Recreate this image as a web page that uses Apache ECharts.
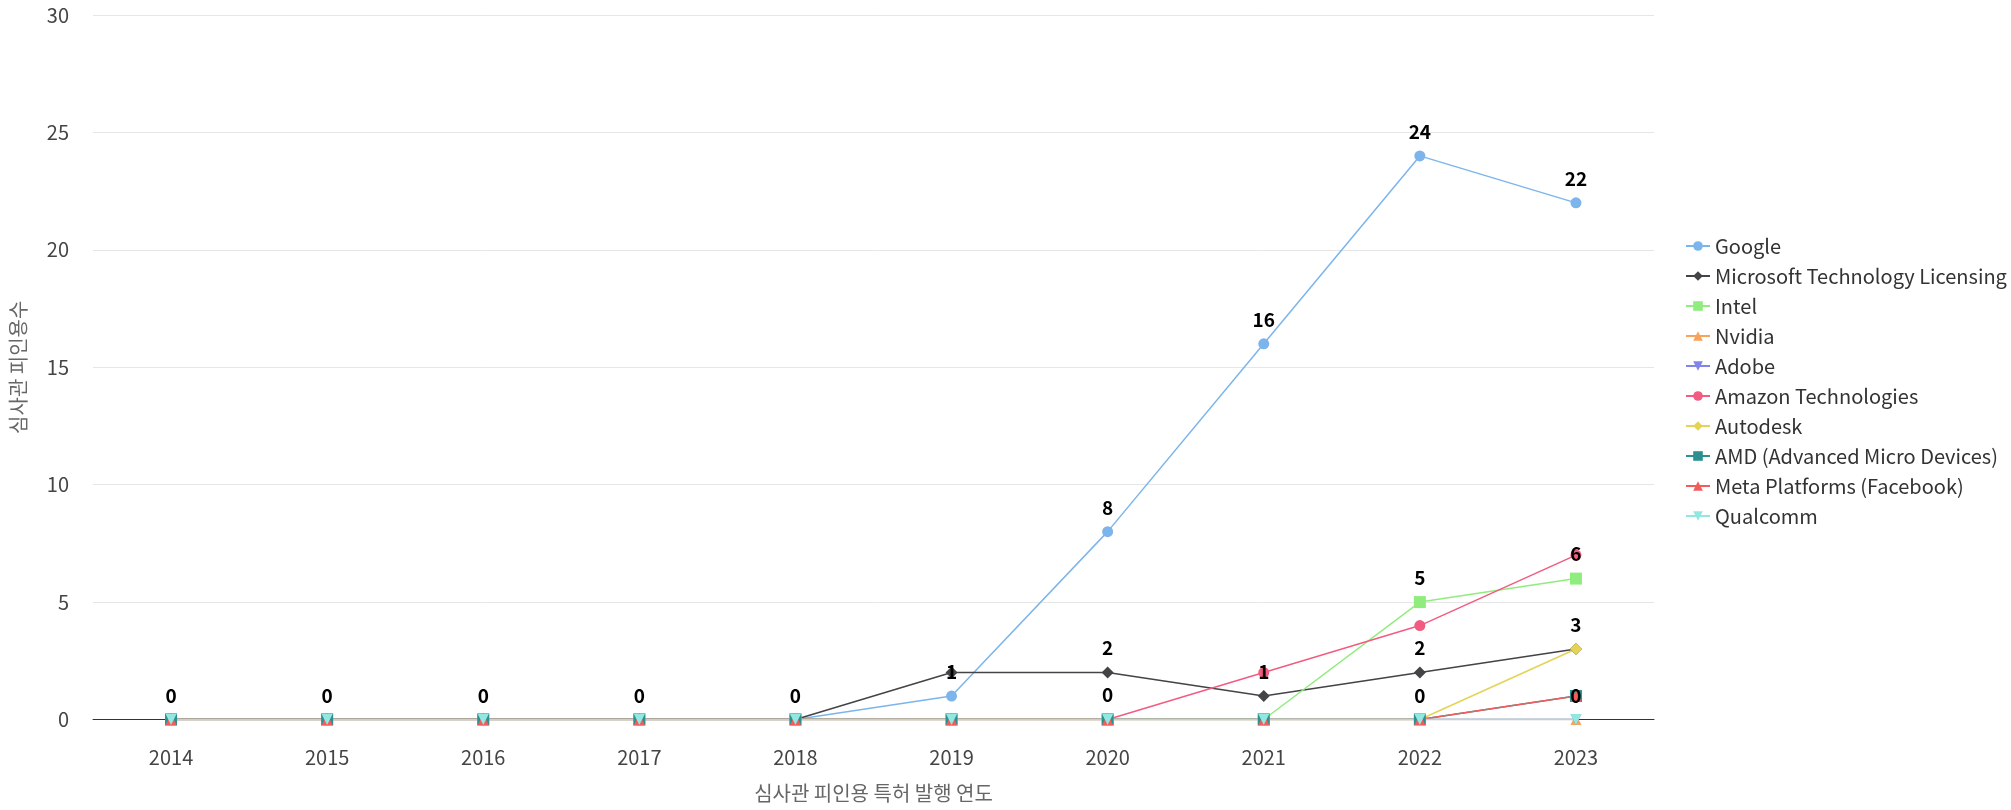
<!DOCTYPE html>
<html><head><meta charset="utf-8">
<script src="https://cdn.jsdelivr.net/npm/echarts@6/dist/echarts.min.js"></script>
<style>html,body{margin:0;padding:0;background:#fff}#c{width:2011px;height:810px}</style>
</head><body><div id="c"></div>
<script>
const years = ['2014','2015','2016','2017','2018','2019','2020','2021','2022','2023'];
const seriesNames = ['Google','Microsoft Technology Licensing','Intel','Nvidia','Adobe','Amazon Technologies','Autodesk','AMD (Advanced Micro Devices)','Meta Platforms (Facebook)','Qualcomm'];
const google    = [0,0,0,0,0,1,8,16,24,22];
const microsoft = [0,0,0,0,0,2,2,1,2,3];
const intel     = [0,0,0,0,0,0,0,0,5,6];
const nvidia    = [0,0,0,0,0,0,0,0,0,0];
const adobe     = [0,0,0,0,0,0,0,0,0,0];
const amazon    = [0,0,0,0,0,0,0,2,4,7];
const autodesk  = [0,0,0,0,0,0,0,0,0,3];
const amd       = [0,0,0,0,0,0,0,0,0,1];
const meta      = [0,0,0,0,0,0,0,0,0,1];
const qualcomm  = [0,0,0,0,0,0,0,0,0,0];
const yTicks = [0,5,10,15,20,25,30];

const values = [google,microsoft,intel,nvidia,adobe,amazon,autodesk,amd,meta,qualcomm];
const colors = ['#7cb5ec','#434348','#90ed7d','#f7a35c','#8085e9','#f15c80','#e4d354','#2b908f','#f45b5b','#91e8e1'];
const symbols = ['circle','diamond','rect','triangle','path://M0,0 L10,0 L5,10 Z','circle','diamond','rect','triangle','path://M0,0 L10,0 L5,10 Z'];
const FONT = "'Noto Sans CJK KR','Noto Sans',sans-serif";

// Hide overlapping data labels: earlier series win (greedy per category)
const showLabel = values.map(v => v.map(() => false));
years.forEach((y, j) => {
  const shown = [];
  values.forEach((v, i) => {
    if (shown.every(s => Math.abs(s - v[j]) >= 1.5)) { shown.push(v[j]); showLabel[i][j] = true; }
  });
});

const chart = echarts.init(document.getElementById('c'), null, {renderer:'canvas'});
chart.setOption({
  animation:false,
  color: colors,
  grid:{left:91, right:357, top:15, bottom:90.5, containLabel:false},
  legend:{
    orient:'vertical', left:1680, top:231,
    itemGap:10, itemWidth:24, itemHeight:12,
    textStyle:{fontSize:20, color:'#333', fontFamily:FONT},
    data: seriesNames
  },
  xAxis:{
    type:'category', data:years, boundaryGap:true,
    name:'심사관 피인용 특허 발행 연도', nameLocation:'middle', nameGap:64,
    nameTextStyle:{fontSize:20, color:'#666', fontFamily:FONT},
    axisLine:{lineStyle:{color:'#333', width:1}},
    axisTick:{show:false},
    axisLabel:{fontSize:20, color:'#444', margin:28, fontFamily:FONT}
  },
  yAxis:{
    type:'value', min:yTicks[0], max:yTicks[yTicks.length-1], interval:5,
    name:'심사관 피인용수', nameLocation:'middle', nameGap:65, nameRotate:90,
    nameTextStyle:{fontSize:20, color:'#666', fontFamily:FONT},
    axisLine:{show:false}, axisTick:{show:false},
    axisLabel:{fontSize:20, color:'#444', margin:24, fontFamily:FONT},
    splitLine:{lineStyle:{color:'#e6e6e6'}}
  },
  series: seriesNames.map((n,i)=>({
    name:n, type:'line',
    data: values[i].map((v,j)=>({value:v, label:{show:showLabel[i][j]}})),
    symbol:symbols[i], symbolSize: (symbols[i]==='rect'||symbols[i]==='diamond')?12:11,
    lineStyle:{width:1.5, color:colors[i]},
    itemStyle:{color:colors[i]},
    label:{show:true, position:'top', distance:9, fontSize:19, fontWeight:'bold', color:'#000', fontFamily:FONT}
  }))
});
</script></body></html>
